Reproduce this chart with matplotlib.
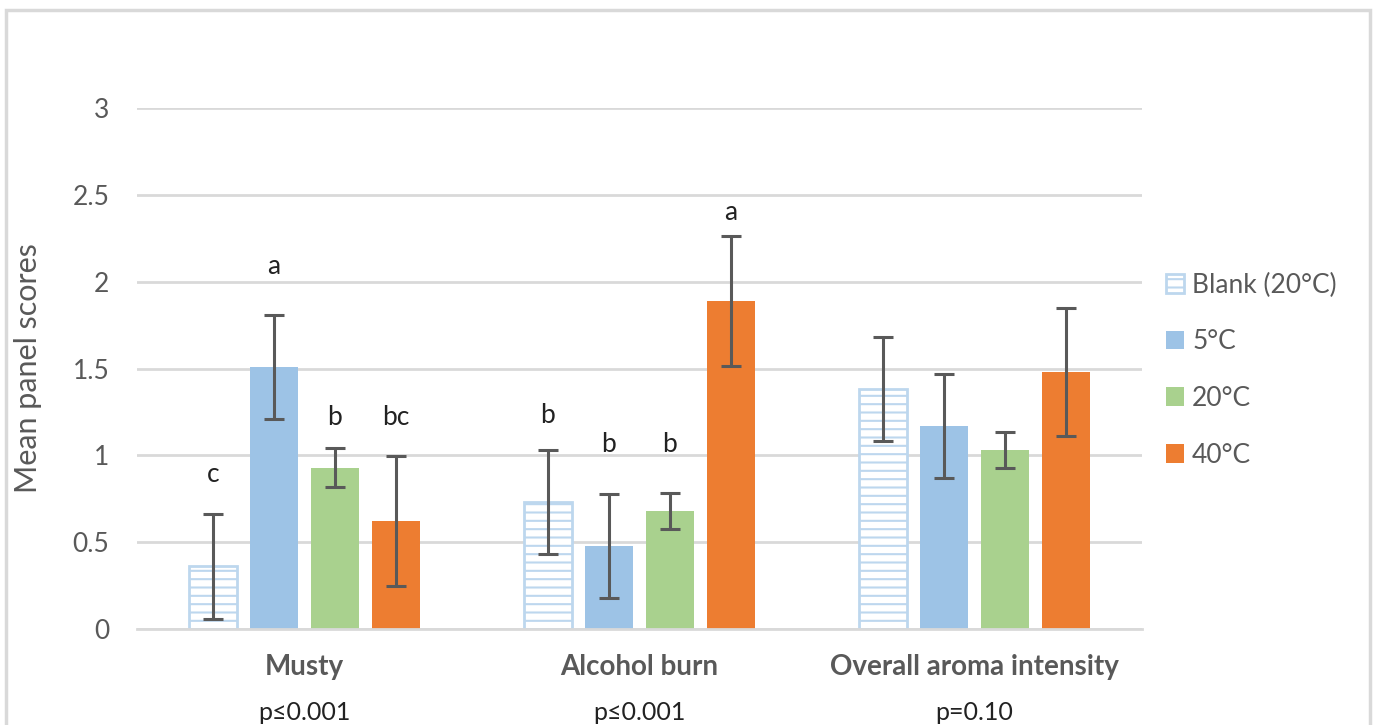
import matplotlib.pyplot as plt
import matplotlib.patches as mpatches
import numpy as np

plt.rcParams['font.family'] = ['Lato', 'DejaVu Sans']
plt.rcParams['hatch.color'] = '#b4d1ec'
plt.rcParams['hatch.linewidth'] = 1.5

categories = ['Musty', 'Alcohol burn', 'Overall aroma intensity']
pvalues = ['p\u22640.001', 'p\u22640.001', 'p=0.10']
series = ['Blank (20\u00b0C)', '5\u00b0C', '20\u00b0C', '40\u00b0C']

blank = [0.36, 0.73, 1.38]
c5 = [1.51, 0.48, 1.17]
c20 = [0.93, 0.68, 1.03]
c40 = [0.62, 1.89, 1.48]

blank_err = [0.30, 0.30, 0.30]
c5_err = [0.30, 0.30, 0.30]
c20_err = [0.11, 0.105, 0.105]
c40_err = [0.375, 0.375, 0.37]

# significance letters and the height they sit at
letters = [['c', 'b', ''], ['a', 'b', ''], ['b', 'b', ''], ['bc', 'a', '']]
letter_y = [[0.89, 1.23, 0], [2.09, 1.06, 0], [1.22, 1.06, 0], [1.22, 2.40, 0]]

values = [blank, c5, c20, c40]
errors = [blank_err, c5_err, c20_err, c40_err]
colors = ['white', '#9dc3e6', '#a9d18e', '#ed7d31']
grey = '#595959'

fig = plt.figure(figsize=(13.79, 7.25), dpi=100)
ax = fig.add_axes([0.0993, 0.1324, 0.7288, 0.7186])

x = np.arange(len(categories))
w = 0.143
step = 0.182
for i in range(4):
    xi = x + (i - 1.5) * step
    if i == 0:
        ax.bar(xi, values[i], w, color='white', edgecolor='#bdd7ee',
               linewidth=2, hatch='--', label=series[i], zorder=2)
    else:
        ax.bar(xi, values[i], w, color=colors[i], label=series[i], zorder=2)
    ax.errorbar(xi, values[i], yerr=errors[i], fmt='none', ecolor=grey,
                elinewidth=2.2, capsize=7.5, capthick=2.2, zorder=3)
    for j in range(len(categories)):
        if letters[i][j]:
            ax.text(xi[j], letter_y[i][j], letters[i][j], ha='center',
                    va='center', fontsize=19, color='#222222')

ax.set_xlim(-0.5, 2.5)
ax.set_ylim(0, 3)
ax.set_yticks([0, 0.5, 1, 1.5, 2, 2.5, 3])
ax.set_yticklabels(['0', '0.5', '1', '1.5', '2', '2.5', '3'])
ax.yaxis.grid(True, color='#d9d9d9', linewidth=2)
ax.set_axisbelow(True)
for s in ['top', 'right', 'left']:
    ax.spines[s].set_visible(False)
ax.spines['bottom'].set_color('#d9d9d9')
ax.spines['bottom'].set_linewidth(2)
ax.tick_params(axis='y', length=0, pad=20, labelsize=19, labelcolor=grey)
ax.tick_params(axis='x', length=0)
ax.set_xticks(x)
ax.set_xticklabels([])
for j in range(len(categories)):
    ax.text(x[j], -0.22, categories[j], ha='center', va='center',
            fontsize=20, fontweight='bold', color=grey)
    ax.text(x[j], -0.48, pvalues[j], ha='center', va='center',
            fontsize=18, color='#222222')

ax.set_ylabel('Mean panel scores', fontsize=22, color=grey)
ax.yaxis.set_label_coords(-0.0945, 0.5)

leg = ax.legend(loc='center left', bbox_to_anchor=(1.0, 0.497), frameon=False,
                fontsize=19, labelcolor=grey, handlelength=0.7,
                handleheight=0.7, handletextpad=0.3, labelspacing=1.2)

border = mpatches.Rectangle((0.0044, -0.02), 0.989, 1.006, transform=fig.transFigure,
                            fill=False, edgecolor='#d9d9d9', linewidth=2.5)
fig.patches.append(border)

fig.savefig('out.png', dpi=100)
